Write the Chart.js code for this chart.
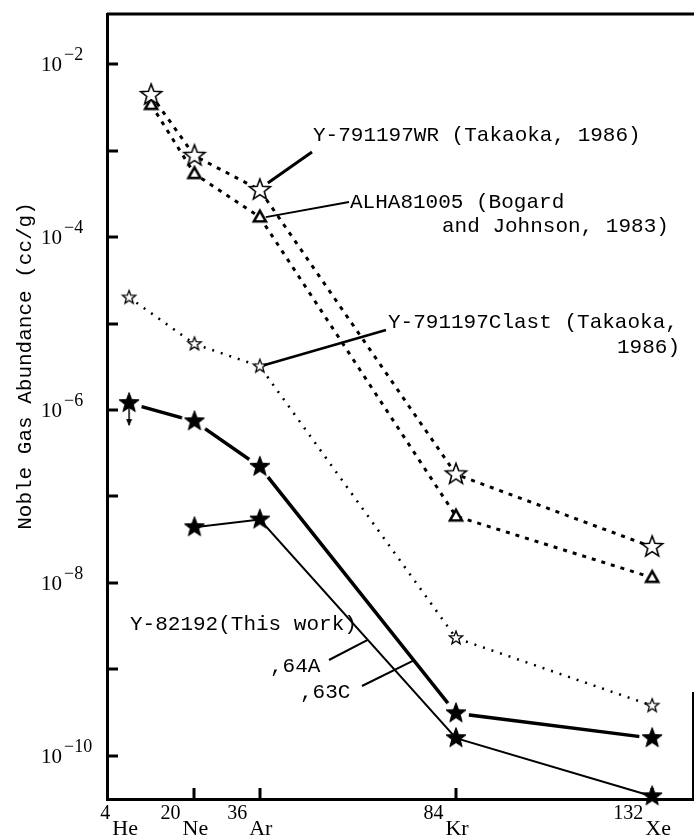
<!DOCTYPE html>
<html>
<head>
<meta charset="utf-8">
<script src="https://cdn.jsdelivr.net/npm/chart.js@4.4.1/dist/chart.umd.min.js"></script>
<style>
  html, body { margin: 0; padding: 0; background: #fff; }
  #wrap { width: 694px; height: 839px; position: relative; }
</style>
</head>
<body>
<div id="wrap"><canvas id="gasChart"></canvas></div>
<script>
// isotope mass numbers and element symbols on the x axis
const masses = [4, 20, 36, 84, 132];
const elements = ['He', 'Ne', 'Ar', 'Kr', 'Xe'];
const tickMasses = [20, 36, 84, 132];

// y axis decades (exponents), labels only on the even ones
const decades = [-10, -9, -8, -7, -6, -5, -4, -3, -2];
const labelledDecades = [-10, -8, -6, -4, -2];

// Y-791197WR (Takaoka, 1986) - He point is drawn a bit right of 4He in the figure
const wrMasses = [9.4, 20, 36, 84, 132];
const wrValues = [4.4e-3, 8.7e-4, 3.5e-4, 1.8e-7, 2.6e-8];

// ALHA81005 (Bogard and Johnson, 1983)
const alhaMasses = [9.4, 20, 36, 84, 132];
const alhaValues = [3.4e-3, 5.4e-4, 1.7e-4, 5.9e-8, 1.15e-8];

// Y-791197 Clast (Takaoka, 1986)
const clastValues = [2.0e-5, 5.8e-6, 3.2e-6, 2.3e-9, 3.8e-10];

// Y-82192 (this work), ,63C - He is an upper limit
const c63Values = [1.2e-6, 7.4e-7, 2.2e-7, 3.1e-10, 1.6e-10];

// Y-82192 (this work), ,64A - no He value
const a64Masses = [20, 36, 84, 132];
const a64Values = [4.4e-8, 5.4e-8, 1.6e-10, 3.4e-11];

const toPoints = (xs, ys) => ys.map((v, i) => ({ x: xs[i], y: v }));

// marker images
function starPath(ctx, cx, cy, R, r) {
    ctx.beginPath();
    for (let i = 0; i < 10; i++) {
        const rad = i % 2 === 0 ? R : r;
        const a = -Math.PI / 2 + i * Math.PI / 5;
        const px = cx + rad * Math.cos(a), py = cy + rad * Math.sin(a);
        if (i === 0) ctx.moveTo(px, py); else ctx.lineTo(px, py);
    }
    ctx.closePath();
}

function makeStar(R, filled, lw, halo, arrow) {
    const half = Math.ceil(Math.max(R + 3, halo || 0));
    const hh = arrow ? Math.max(half, arrow + 3) : half;
    const c = document.createElement('canvas');
    c.width = half * 2;
    c.height = hh * 2;
    const ctx = c.getContext('2d');
    const cx = half, cy = hh;
    if (halo) {
        ctx.fillStyle = '#fff';
        ctx.beginPath();
        ctx.arc(cx, cy, halo, 0, Math.PI * 2);
        ctx.fill();
    }
    if (arrow) {
        ctx.strokeStyle = '#000';
        ctx.lineWidth = 1.5;
        ctx.beginPath();
        ctx.moveTo(cx, cy);
        ctx.lineTo(cx, cy + arrow);
        ctx.stroke();
        ctx.fillStyle = '#000';
        ctx.beginPath();
        ctx.moveTo(cx, cy + arrow + 1);
        ctx.lineTo(cx - 3, cy + arrow - 6);
        ctx.lineTo(cx + 3, cy + arrow - 6);
        ctx.closePath();
        ctx.fill();
    }
    starPath(ctx, cx, cy, R, R * 0.42);
    ctx.fillStyle = filled ? '#000' : '#fff';
    ctx.fill();
    ctx.lineWidth = lw;
    ctx.strokeStyle = '#000';
    ctx.lineJoin = 'miter';
    ctx.stroke();
    return c;
}

function makeTriangle(side, lw) {
    const s = Math.ceil(side / 2 + 4);
    const c = document.createElement('canvas');
    c.width = s * 2;
    c.height = s * 2;
    const ctx = c.getContext('2d');
    const h = side * 0.88;
    ctx.beginPath();
    ctx.moveTo(s, s - h * 0.6);
    ctx.lineTo(s + side / 2, s + h * 0.4);
    ctx.lineTo(s - side / 2, s + h * 0.4);
    ctx.closePath();
    ctx.fillStyle = '#fff';
    ctx.fill();
    ctx.lineWidth = lw;
    ctx.strokeStyle = '#000';
    ctx.stroke();
    return c;
}

const openStar = makeStar(11, false, 1.6);
const smallStar = makeStar(7, false, 1.3);
const triangle = makeTriangle(12, 2.6);
const filledStar = makeStar(10.5, true, 1);
const haloStar = makeStar(10.5, true, 1, 13);
const haloArrowStar = makeStar(10.5, true, 1, 13, 22);

const MONO = '"Liberation Mono", "DejaVu Sans Mono", monospace';
const SERIF = '"Liberation Serif", "DejaVu Serif", serif';

const figurePlugin = {
    id: 'figure',
    afterDatasetsDraw(chart) {
        const { ctx, chartArea: a, scales: { x, y } } = chart;
        ctx.save();
        ctx.strokeStyle = '#000';
        ctx.fillStyle = '#000';

        // frame: top line and short right edge
        ctx.lineWidth = 3;
        ctx.beginPath();
        ctx.moveTo(a.left, a.top);
        ctx.lineTo(a.right + 1, a.top);
        ctx.stroke();
        ctx.lineWidth = 2;
        ctx.beginPath();
        ctx.moveTo(a.right, a.bottom);
        ctx.lineTo(a.right, a.bottom - 107);
        ctx.stroke();

        // y ticks (inward) and labels
        ctx.lineWidth = 3;
        decades.forEach(d => {
            const ty = Math.round(y.getPixelForValue(Math.pow(10, d)));
            ctx.beginPath();
            ctx.moveTo(a.left, ty);
            ctx.lineTo(a.left + 11, ty);
            ctx.stroke();
        });
        ctx.textAlign = 'left';
        ctx.textBaseline = 'alphabetic';
        labelledDecades.forEach(d => {
            const ty = y.getPixelForValue(Math.pow(10, d));
            ctx.font = '21px ' + SERIF;
            ctx.fillText('10', 41, ty + 7);
            ctx.font = '18px ' + SERIF;
            ctx.fillText('\u2212' + Math.abs(d), 64, ty - 4);
        });

        // x ticks (inward) and labels
        tickMasses.forEach(m => {
            const tx = Math.round(x.getPixelForValue(m));
            ctx.beginPath();
            ctx.moveTo(tx, a.bottom);
            ctx.lineTo(tx, a.bottom - 11);
            ctx.stroke();
        });
        masses.forEach((m, i) => {
            const centre = x.getPixelForValue(m) - 10;
            ctx.font = '20px ' + SERIF;
            const sup = String(m);
            const sw = ctx.measureText(sup).width;
            ctx.font = '22px ' + SERIF;
            const ew = ctx.measureText(elements[i]).width;
            const start = centre - (sw + ew + 2) / 2;
            ctx.font = '20px ' + SERIF;
            ctx.fillText(sup, start, a.bottom + 20);
            ctx.font = '22px ' + SERIF;
            ctx.fillText(elements[i], start + sw + 2, a.bottom + 36);
        });

        // y title
        ctx.save();
        ctx.translate(25, 366);
        ctx.rotate(-Math.PI / 2);
        ctx.textAlign = 'center';
        ctx.textBaseline = 'middle';
        ctx.font = '21px ' + MONO;
        ctx.fillText('Noble Gas Abundance (cc/g)', 0, 0);
        ctx.restore();

        // annotations
        ctx.font = '21px ' + MONO;
        ctx.textAlign = 'left';
        ctx.textBaseline = 'alphabetic';
        ctx.fillText('Y-791197WR (Takaoka, 1986)', 313, 141);
        ctx.fillText('ALHA81005 (Bogard', 350, 208);
        ctx.fillText('and Johnson, 1983)', 442, 232);
        ctx.fillText('Y-791197Clast (Takaoka,', 388, 328);
        ctx.fillText('1986)', 617, 353);
        ctx.fillText('Y-82192(This work)', 130, 630);
        ctx.fillText(',64A', 270, 672);
        ctx.fillText(',63C', 300, 698);

        // leader lines, anchored on the Ar points of each series
        const px = (m, v) => [x.getPixelForValue(m), y.getPixelForValue(v)];
        const [wx, wy] = px(36, wrValues[2]);
        ctx.lineWidth = 3;
        ctx.beginPath();
        ctx.moveTo(wx + 8, wy - 7);
        ctx.lineTo(312, 152);
        ctx.stroke();

        const [ax, ay] = px(36, alhaValues[2]);
        ctx.lineWidth = 2;
        ctx.beginPath();
        ctx.moveTo(ax + 6, ay);
        ctx.lineTo(349, 202);
        ctx.stroke();

        const [cx, cy] = px(36, clastValues[2]);
        ctx.lineWidth = 2.5;
        ctx.beginPath();
        ctx.moveTo(cx + 4, cy - 1);
        ctx.lineTo(386, 330);
        ctx.stroke();

        // ,64A leader to the thin line, ,63C leader to the thick line
        const lerp = (p, q, t) => [p[0] + (q[0] - p[0]) * t, p[1] + (q[1] - p[1]) * t];
        const thin = lerp(px(36, a64Values[1]), px(84, a64Values[2]), 0.55);
        ctx.lineWidth = 2;
        ctx.beginPath();
        ctx.moveTo(329, 660);
        ctx.lineTo(thin[0], thin[1]);
        ctx.stroke();
        const thick = lerp(px(36, c63Values[2]), px(84, c63Values[3]), 0.785);
        ctx.beginPath();
        ctx.moveTo(362, 686);
        ctx.lineTo(thick[0], thick[1]);
        ctx.stroke();

        ctx.restore();
    }
};

new Chart(document.getElementById('gasChart'), {
    type: 'line',
    data: {
        datasets: [
            {
                label: 'Y-791197WR (Takaoka, 1986)',
                data: toPoints(wrMasses, wrValues),
                borderColor: '#000',
                borderWidth: 3,
                borderDash: [4, 6],
                pointStyle: openStar,
                pointRadius: 11,
                clip: false,
                order: 2
            },
            {
                label: 'ALHA81005 (Bogard and Johnson, 1983)',
                data: toPoints(alhaMasses, alhaValues),
                borderColor: '#000',
                borderWidth: 3,
                borderDash: [4, 6],
                pointStyle: triangle,
                pointRadius: 7,
                clip: false,
                order: 3
            },
            {
                label: 'Y-791197Clast (Takaoka, 1986)',
                data: toPoints(masses, clastValues),
                borderColor: '#000',
                borderWidth: 2.5,
                borderDash: [2, 7],
                pointStyle: smallStar,
                pointRadius: 7,
                clip: false,
                order: 4
            },
            {
                label: 'Y-82192 ,63C',
                data: toPoints(masses, c63Values),
                borderColor: '#000',
                borderWidth: 3.5,
                pointStyle: [haloArrowStar, haloStar, haloStar, haloStar, haloStar],
                pointRadius: 11,
                clip: false,
                order: 5
            },
            {
                label: 'Y-82192 ,64A',
                data: toPoints(a64Masses, a64Values),
                borderColor: '#000',
                borderWidth: 2,
                pointStyle: filledStar,
                pointRadius: 11,
                clip: false,
                order: 1
            }
        ]
    },
    options: {
        responsive: true,
        maintainAspectRatio: false,
        animation: false,
        layout: { autoPadding: false, padding: { top: 14, right: 1, left: 0, bottom: 0 } },
        plugins: {
            legend: { display: false },
            tooltip: { enabled: false }
        },
        scales: {
            x: {
                type: 'linear',
                min: -1.4,
                max: 142,
                grid: { display: false },
                border: { display: true, width: 3, color: '#000' },
                ticks: { display: false },
                afterFit: s => { s.height = 40; }
            },
            y: {
                type: 'logarithmic',
                min: Math.pow(10, -10.5),
                max: Math.pow(10, -1.42),
                grid: { display: false },
                border: { display: true, width: 3, color: '#000' },
                ticks: { display: false },
                afterFit: s => { s.width = 107; }
            }
        }
    },
    plugins: [figurePlugin]
});
</script>
</body>
</html>
